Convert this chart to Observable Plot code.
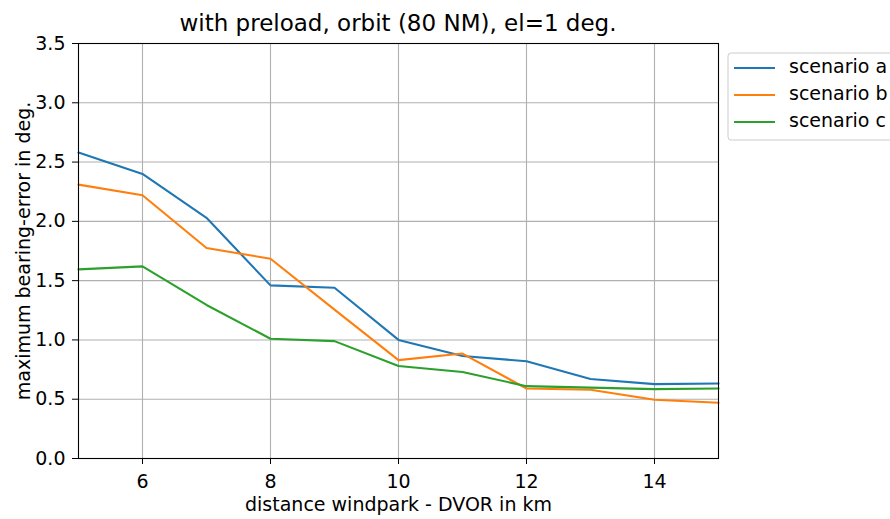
<!DOCTYPE html>
<html><head><meta charset="utf-8">
<script src="https://cdn.jsdelivr.net/npm/d3@7"></script>
<script src="https://cdn.jsdelivr.net/npm/@observablehq/plot@0.6"></script>
<style>body{margin:0;background:#fff;} svg{font-family:"DejaVu Sans";}</style>
</head><body><div id="chart"></div>
<script>
const distance = [5, 6, 7, 8, 9, 10, 11, 12, 13, 14, 15];
const scenarioA = [2.58, 2.40, 2.03, 1.46, 1.44, 1.00, 0.865, 0.82, 0.67, 0.627, 0.632];
const scenarioB = [2.31, 2.22, 1.775, 1.685, 1.255, 0.83, 0.885, 0.59, 0.58, 0.495, 0.47];
const scenarioC = [1.595, 1.62, 1.295, 1.01, 0.99, 0.78, 0.73, 0.61, 0.598, 0.585, 0.59];
const seriesNames = ["scenario a", "scenario b", "scenario c"];
const seriesColors = ["#1f77b4", "#ff7f0e", "#2ca02c"];
const xTicks = [6, 8, 10, 12, 14];
const yTicks = [0, 0.5, 1, 1.5, 2, 2.5, 3, 3.5];
const titleText = "with preload, orbit (80 NM), el=1 deg.";
const xLabel = "distance windpark - DVOR in km";
const yLabel = "maximum bearing-error in deg.";

const rows = [];
[scenarioA, scenarioB, scenarioC].forEach((vals, i) =>
  vals.forEach((v, j) => rows.push({x: distance[j], y: v, s: seriesNames[i]})));

const chart = Plot.plot({
  width: 890, height: 519,
  marginLeft: 78, marginRight: 172, marginTop: 43, marginBottom: 61,
  style: {fontFamily: "DejaVu Sans", fontSize: "19px", background: "#fff", color: "#000"},
  x: {domain: [5, 15]},
  y: {domain: [0, 3.5]},
  color: {domain: seriesNames, range: seriesColors},
  marks: [
    Plot.gridX(xTicks, {stroke: "#b0b0b0", strokeOpacity: 1, strokeWidth: 1.1}),
    Plot.gridY(yTicks, {stroke: "#b0b0b0", strokeOpacity: 1, strokeWidth: 1.1}),
    Plot.line(rows, {x: "x", y: "y", stroke: "s", strokeWidth: 2.1}),
    Plot.frame({stroke: "#000", strokeWidth: 1.1}),
    Plot.axisX(xTicks, {tickSize: 6, tickPadding: 10, fontSize: 19, label: xLabel,
      labelAnchor: "center", labelArrow: "none", labelOffset: 52}),
    Plot.axisY(yTicks, {tickSize: 6, tickPadding: 7, fontSize: 19, tickFormat: d3.format(".1f"),
      label: yLabel, labelAnchor: "center", labelArrow: "none", labelOffset: 62})
  ]
});
document.getElementById("chart").appendChild(chart);

const svg = d3.select(chart);
svg.append("text").attr("x", 398).attr("y", 31).attr("text-anchor", "middle")
  .attr("font-size", 23).attr("fill", "#000").text(titleText);

const lg = svg.append("g").attr("text-anchor", "start");
lg.append("rect").attr("x", 728).attr("y", 53).attr("width", 175).attr("height", 87)
  .attr("rx", 3).attr("fill", "#fff").attr("stroke", "#cccccc");
seriesNames.forEach((name, i) => {
  const y = 68 + i * 27;
  lg.append("line").attr("x1", 734).attr("x2", 775).attr("y1", y).attr("y2", y)
    .attr("stroke", seriesColors[i]).attr("stroke-width", 2.1);
  lg.append("text").attr("x", 789).attr("y", y + 5).attr("font-size", 19)
    .attr("text-anchor", "start").attr("fill", "#000").text(name);
});
</script></body></html>
